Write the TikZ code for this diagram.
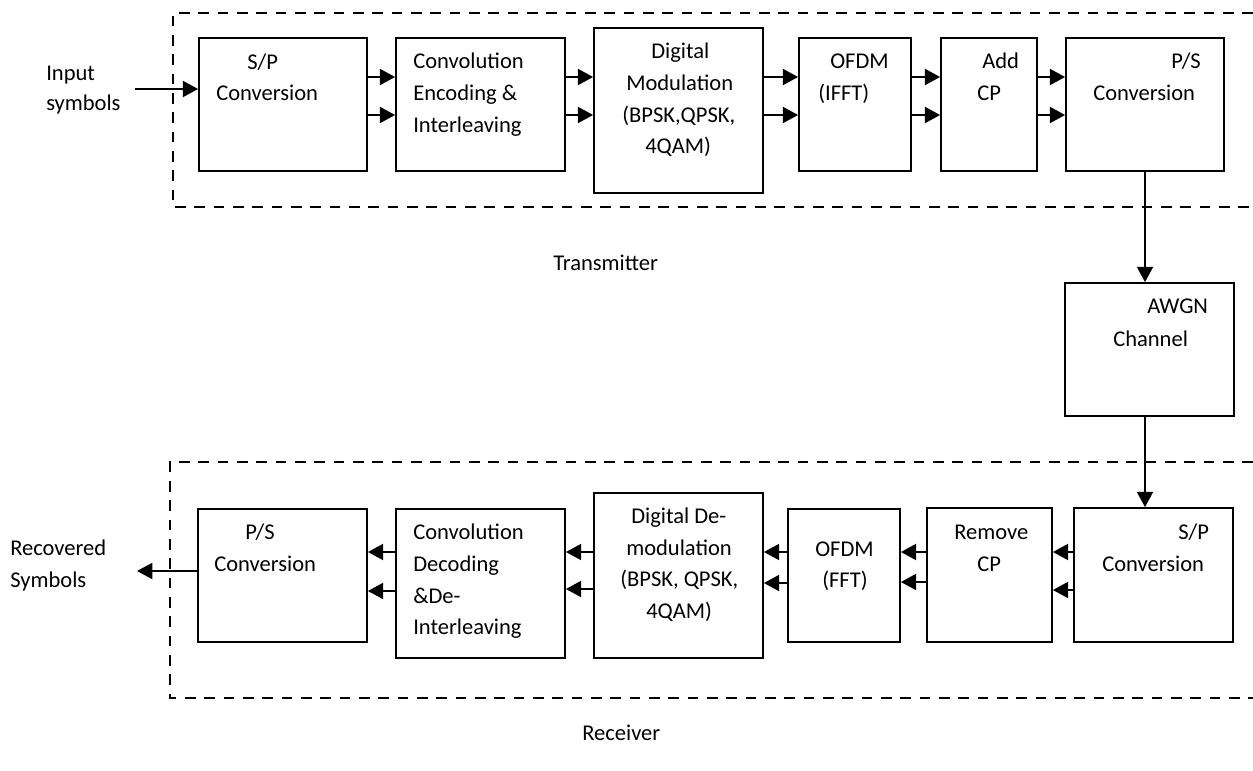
\documentclass[tikz,border=0pt]{standalone}
\usepackage{fontspec}
\setmainfont{Carlito}
\usetikzlibrary{arrows.meta,fit}
\tikzset{
  blk/.style={draw, line width=1.3pt, inner sep=0pt},
  txt/.style={inner sep=0pt, anchor=base west, font=\fontsize{16.9}{20}\selectfont},
  arr/.style={line width=1.6pt, -{Triangle[length=11.5pt,width=12pt]}},
  grp/.style={line width=1.7pt, dash pattern=on 8pt off 6.5pt},
}
\begin{document}
\begin{tikzpicture}[x=0.75pt,y=-0.75pt]
\useasboundingbox (0,0) rectangle (1253,771);
% group frames
\draw[grp] (1253,13) -- (173,13) -- (173,207) -- (1253,207);
\draw[grp] (1253,462) -- (170,462) -- (170,698) -- (1253,698);
% transmitter blocks
\node[blk, fit={(199,38) (367,171)}] (sp) {};
\node[blk, fit={(396,38) (565,171)}] (enc) {};
\node[blk, fit={(594,28) (763,193)}] (mod) {};
\node[blk, fit={(799,38) (911,171)}] (ifft) {};
\node[blk, fit={(941,38) (1037,171)}] (addcp) {};
\node[blk, fit={(1066,38) (1224,171)}] (ps) {};
% channel
\node[blk, fit={(1065,283) (1234,416)}] (awgn) {};
% receiver blocks
\node[blk, fit={(1074,508) (1233,642)}] (rsp) {};
\node[blk, fit={(927,508) (1052,642)}] (rmcp) {};
\node[blk, fit={(788,509) (900,642)}] (fft) {};
\node[blk, fit={(594,493) (763,658)}] (demod) {};
\node[blk, fit={(396,509) (565,658)}] (dec) {};
\node[blk, fit={(198,509) (367,642)}] (rps) {};
% texts
\node[txt] (t01) at (46,80) {Input};
\node[txt] (t02) at (46,110) {symbols};
\node[txt] (t03) at (247,69) {S/P};
\node[txt] (t04) at (216,100) {Conversion};
\node[txt] (t05) at (413,68) {Convolution};
\node[txt] (t06) at (413,100) {Encoding \&};
\node[txt] (t07) at (413,132) {Interleaving};
\node[txt] (t08) at (651,58) {Digital};
\node[txt] (t09) at (626,90) {Modulation};
\node[txt] (t10) at (622,122) {(BPSK,QPSK,};
\node[txt] (t11) at (645,153) {4QAM)};
\node[txt] (t12) at (830,68) {OFDM};
\node[txt] (t13) at (818,100) {(IFFT)};
\node[txt] (t14) at (982,68) {Add};
\node[txt] (t15) at (977,100) {CP};
\node[txt] (t16) at (1171,68) {P/S};
\node[txt] (t17) at (1093,100) {Conversion};
\node[txt] (t18) at (553,270) {Transmitter};
\node[txt] (t19) at (1147,313) {AWGN};
\node[txt] (t20) at (1113,346) {Channel};
\node[txt] (t21) at (1178,539) {S/P};
\node[txt] (t22) at (1102,571) {Conversion};
\node[txt] (t23) at (954,539) {Remove};
\node[txt] (t24) at (977,571) {CP};
\node[txt] (t25) at (815,556) {OFDM};
\node[txt] (t26) at (822,587) {(FFT)};
\node[txt] (t27) at (631,523) {Digital De-};
\node[txt] (t28) at (626,555) {modulation};
\node[txt] (t29) at (620,586) {(BPSK, QPSK,};
\node[txt] (t30) at (646,618) {4QAM)};
\node[txt] (t31) at (413,539) {Convolution};
\node[txt] (t32) at (413,571) {Decoding};
\node[txt] (t33) at (413,603) {\&De-};
\node[txt] (t34) at (413,634) {Interleaving};
\node[txt] (t35) at (245,539) {P/S};
\node[txt] (t36) at (214,571) {Conversion};
\node[txt] (t37) at (10,555) {Recovered};
\node[txt] (t38) at (10,587) {Symbols};
\node[txt] (t39) at (582,740) {Receiver};
% row coordinates
\coordinate (in) at (135,89);
\coordinate (ta) at (0,77);
\coordinate (tb) at (0,115);
\coordinate (ra) at (0,552);
\coordinate (r1) at (0,590);
\coordinate (r2) at (0,582);
\coordinate (r3) at (0,583);
\coordinate (r4) at (0,589);
\coordinate (r5) at (0,591);
\coordinate (out) at (137,571);
% transmitter connectors
\draw[arr] (in) -- (in -| sp.west);
\foreach \a/\b in {sp/enc, enc/mod, mod/ifft, ifft/addcp, addcp/ps}{
  \draw[arr] (\a.east |- ta) -- (\b.west |- ta);
  \draw[arr] (\a.east |- tb) -- (\b.west |- tb);
}
\draw[arr] (ps.south) -- (ps.south |- awgn.north);
\draw[arr] (ps.south |- awgn.south) -- (ps.south |- rsp.north);
% receiver connectors
\draw[arr] (rsp.west |- ra) -- (rmcp.east |- ra);
\draw[arr] (rsp.west |- r1) -- (rmcp.east |- r1);
\draw[arr] (rmcp.west |- ra) -- (fft.east |- ra);
\draw[arr] (rmcp.west |- r2) -- (fft.east |- r2);
\draw[arr] (fft.west |- ra) -- (demod.east |- ra);
\draw[arr] (fft.west |- r3) -- (demod.east |- r3);
\draw[arr] (demod.west |- ra) -- (dec.east |- ra);
\draw[arr] (demod.west |- r4) -- (dec.east |- r4);
\draw[arr] (dec.west |- ra) -- (rps.east |- ra);
\draw[arr] (dec.west |- r5) -- (rps.east |- r5);
\draw[arr] (rps.west |- out) -- (out);
\end{tikzpicture}
\end{document}
